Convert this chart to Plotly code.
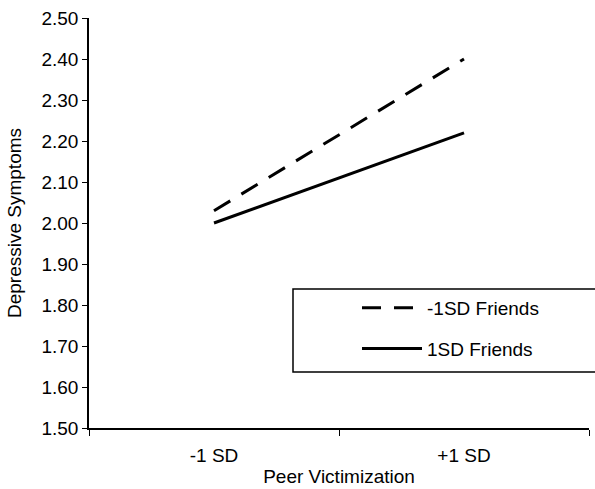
import plotly.graph_objects as go

categories = ["-1 SD", "+1 SD"]
low_friends = [2.03, 2.40]
high_friends = [2.00, 2.22]
y_ticks = [1.50, 1.60, 1.70, 1.80, 1.90, 2.00, 2.10, 2.20, 2.30, 2.40, 2.50]

FONT = "Liberation Sans, Arial, sans-serif"

fig = go.Figure()
fig.add_trace(go.Scatter(
    x=categories, y=low_friends, mode="lines", name="-1SD Friends",
    legendgroup="a",
    line=dict(color="black", width=3, dash="19px,13px"),
))
fig.add_trace(go.Scatter(
    x=categories, y=high_friends, mode="lines", name="1SD Friends",
    legendgroup="b",
    line=dict(color="black", width=3),
))

fig.add_shape(type="rect", xref="paper", yref="paper",
              x0=(293 - 89) / 500, x1=(600 - 89) / 500,
              y0=(428 - 372) / 410, y1=(428 - 289) / 410,
              line=dict(color="black", width=1.5), fillcolor="white", layer="below")

fig.update_layout(
    width=595, height=489,
    margin=dict(l=89, r=6, t=18, b=61),
    paper_bgcolor="white", plot_bgcolor="white",
    font=dict(family=FONT, size=19, color="black"),
    showlegend=True,
    legend=dict(
        x=(357 - 89) / 500, y=(428 - 289) / 410, xanchor="left", yanchor="top",
        bgcolor="rgba(0,0,0,0)", borderwidth=0,
        traceorder="grouped", tracegroupgap=13,
        itemwidth=60,
        font=dict(family=FONT, size=19, color="black"),
    ),
    xaxis=dict(
        type="category", range=[-0.5, 1.5],
        tickson="boundaries", ticks="outside", ticklen=6, tickcolor="black",
        showline=True, linecolor="black", linewidth=1.5,
        showgrid=False, zeroline=False,
        ticklabelstandoff=9,
        title=dict(text="Peer Victimization", standoff=5, font=dict(size=19)),
        tickfont=dict(size=19),
    ),
    yaxis=dict(
        range=[1.5, 2.5], tickvals=y_ticks, tickformat=".2f",
        ticks="outside", ticklen=5, tickcolor="black",
        showline=True, linecolor="black", linewidth=1.5,
        showgrid=False, zeroline=False,
        title=dict(text="Depressive Symptoms", standoff=15, font=dict(size=19)),
        tickfont=dict(size=19),
    ),
)

fig.write_html("out.html", config={"displayModeBar": False},
               post_script="document.body.style.margin='0';")
